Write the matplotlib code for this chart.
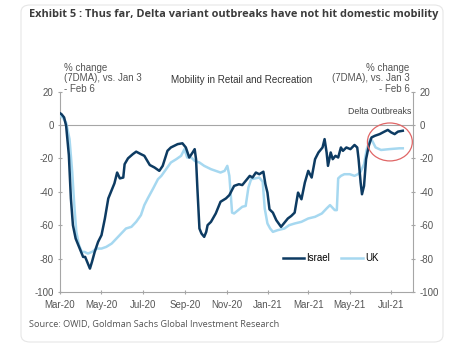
import pandas as pd
import matplotlib
matplotlib.use("Agg")
import matplotlib.pyplot as plt
from matplotlib.patches import Ellipse, FancyBboxPatch

israel_dates = ["2020-03-01", "2020-03-03", "2020-03-07", "2020-03-10", "2020-03-14", "2020-03-17",
                "2020-03-20", "2020-03-24", "2020-03-30", "2020-04-04", "2020-04-07", "2020-04-11",
                "2020-04-14", "2020-04-17", "2020-04-21", "2020-04-26", "2020-05-01", "2020-05-06",
                "2020-05-11", "2020-05-16", "2020-05-20", "2020-05-24", "2020-05-28", "2020-06-02",
                "2020-06-04", "2020-06-09", "2020-06-16", "2020-06-21", "2020-06-28", "2020-07-03",
                "2020-07-11", "2020-07-18", "2020-07-25", "2020-07-30", "2020-08-06", "2020-08-11",
                "2020-08-21", "2020-08-28", "2020-09-02", "2020-09-07", "2020-09-12", "2020-09-15",
                "2020-09-17", "2020-09-19", "2020-09-22", "2020-09-25", "2020-09-29", "2020-10-02",
                "2020-10-04", "2020-10-09", "2020-10-16", "2020-10-23", "2020-10-31", "2020-11-05",
                "2020-11-12", "2020-11-19", "2020-11-24", "2020-12-01", "2020-12-05", "2020-12-09",
                "2020-12-14", "2020-12-19", "2020-12-25", "2020-12-28", "2020-12-31", "2021-01-03",
                "2021-01-08", "2021-01-13", "2021-01-20", "2021-01-25", "2021-01-30", "2021-02-04",
                "2021-02-09", "2021-02-14", "2021-02-19", "2021-02-24", "2021-03-01", "2021-03-06",
                "2021-03-11", "2021-03-16", "2021-03-22", "2021-03-25", "2021-03-28", "2021-03-30",
                "2021-04-03", "2021-04-06", "2021-04-10", "2021-04-14", "2021-04-18", "2021-04-21",
                "2021-04-26", "2021-05-02", "2021-05-08", "2021-05-12", "2021-05-14", "2021-05-17",
                "2021-05-19", "2021-05-22", "2021-05-25", "2021-05-29", "2021-06-02", "2021-06-07",
                "2021-06-14", "2021-06-21", "2021-06-26", "2021-07-01", "2021-07-06", "2021-07-11",
                "2021-07-18"]
israel = [7, 6.5, 4.5, -0.5, -18, -44,
          -60, -68, -74, -79, -79, -83,
          -86, -82, -76, -70, -66, -56,
          -44, -39, -35, -28.5, -32, -31.5,
          -23.5, -20, -17.5, -16, -17.5, -18.5,
          -24, -25.5, -27.5, -24.5, -15.5, -13.5,
          -11.5, -11, -13.5, -19.5, -16.5, -14.5,
          -20.5, -38, -62, -65, -67, -64,
          -60, -58, -53, -46, -44, -42,
          -36.5, -35.5, -36, -32.5, -30.5, -31.5,
          -28.5, -29.5, -28, -35.5, -40.5, -50.5,
          -52.5, -57, -61, -58.5, -56, -54.5,
          -52.5, -40.5, -44.5, -34.5, -27.5, -31.5,
          -20.5, -16.5, -13.5, -8.5, -16.5, -24.5,
          -16.5, -20.5, -18.5, -19.5, -13.5, -15.5,
          -13.5, -14.5, -12, -13.5, -20.5, -34.5,
          -41.5, -36.5, -20.5, -12.5, -7.5, -6.5,
          -5.5, -4, -3, -4.5, -5.5, -4,
          -3.5]

uk_dates = ["2020-03-01", "2020-03-05", "2020-03-10", "2020-03-15", "2020-03-19", "2020-03-22",
            "2020-03-25", "2020-03-29", "2020-04-02", "2020-04-06", "2020-04-11", "2020-04-17",
            "2020-04-24", "2020-05-01", "2020-05-08", "2020-05-16", "2020-05-23", "2020-05-30",
            "2020-06-06", "2020-06-14", "2020-06-21", "2020-06-28", "2020-07-03", "2020-07-08",
            "2020-07-16", "2020-07-23", "2020-07-28", "2020-08-04", "2020-08-11", "2020-08-19",
            "2020-08-26", "2020-08-31", "2020-09-04", "2020-09-10", "2020-09-15", "2020-09-22",
            "2020-09-29", "2020-10-09", "2020-10-16", "2020-10-23", "2020-10-29", "2020-11-02",
            "2020-11-05", "2020-11-09", "2020-11-12", "2020-11-24", "2020-11-29", "2020-12-03",
            "2020-12-07", "2020-12-19", "2020-12-24", "2020-12-27", "2020-12-31", "2021-01-04",
            "2021-01-08", "2021-01-15", "2021-01-25", "2021-02-01", "2021-02-09", "2021-02-19",
            "2021-03-01", "2021-03-11", "2021-03-21", "2021-03-28", "2021-04-02", "2021-04-09",
            "2021-04-12", "2021-04-14", "2021-04-18", "2021-04-23", "2021-05-01", "2021-05-08",
            "2021-05-13", "2021-05-17", "2021-05-22", "2021-05-26", "2021-05-31", "2021-06-03",
            "2021-06-08", "2021-06-16", "2021-06-28", "2021-07-13", "2021-07-18"]
uk = [5.4, 4.4, 1.4, -8.5, -28.5, -48,
      -64, -72, -76, -76, -77, -76,
      -74, -74, -73, -71, -68, -65,
      -62, -61, -58, -54, -48, -44,
      -38, -32.5, -30.5, -26.5, -22.5, -20.5,
      -18.5, -14.5, -19.5, -19.5, -21.5, -22.5,
      -24.5, -26.5, -27.5, -28.5, -27.5, -24.5,
      -30.5, -52.5, -53, -49, -48.5, -37.5,
      -32.5, -31.5, -34, -50, -59, -62,
      -64, -63, -62, -60, -59, -58,
      -56, -55, -53, -50, -48, -51,
      -51, -32, -30.5, -29.5, -29.5, -30.5,
      -29.5, -28, -23.5, -14.5, -8.5, -9.5,
      -13.5, -15, -14.5, -14, -14]

x_ticks = ["2020-03-01", "2020-05-01", "2020-07-01", "2020-09-01", "2020-11-01",
           "2021-01-01", "2021-03-01", "2021-05-01", "2021-07-01"]
x_tick_labels = ["Mar-20", "May-20", "Jul-20", "Sep-20", "Nov-20",
                 "Jan-21", "Mar-21", "May-21", "Jul-21"]
y_ticks = [20, 0, -20, -40, -60, -80, -100]

plt.rcParams['font.family'] = ['Liberation Sans', 'DejaVu Sans']

fig = plt.figure(figsize=(4.52, 3.52), dpi=100)

# card frame behind everything
card = FancyBboxPatch((21 / 452, 1 - 342 / 352), 422 / 452, 337 / 352,
                      boxstyle="round,pad=0,rounding_size=0.02",
                      transform=fig.transFigure, facecolor="white",
                      edgecolor="#e6e6e6", linewidth=0.8, zorder=-10)
fig.patches.append(card)

fig.text(29 / 452, 1 - 14 / 352,
         "Exhibit 5 : Thus far, Delta variant outbreaks have not hit domestic mobility",
         fontsize=7.9, fontweight="bold", color="#3c3c3c", va="center", ha="left",
         family=["Open Sans", "DejaVu Sans"])
fig.text(29 / 452, 1 - 325 / 352, "Source: OWID, Goldman Sachs Global Investment Research",
         fontsize=6.6, color="#555555", va="center", ha="left",
         family=["Open Sans", "DejaVu Sans"])

ax = fig.add_axes([60 / 452, 1 - 292 / 352, 353 / 452, 200.5 / 352])
ax.patch.set_alpha(0)

israel_x = pd.to_datetime(israel_dates)
uk_x = pd.to_datetime(uk_dates)
uk_line, = ax.plot(uk_x, uk, color="#a6d8f0", linewidth=1.8, label="UK", zorder=3)
isr_line, = ax.plot(israel_x, israel, color="#0d3b62", linewidth=1.8, label="Israel", zorder=4)
ax.axhline(0, color="#a6a6a6", linewidth=0.8, zorder=1)

ax.set_xlim(pd.Timestamp("2020-03-01"), pd.Timestamp("2021-08-02"))
ax.set_ylim(-100, 20)
ax.set_xticks(pd.to_datetime(x_ticks))
ax.set_xticklabels(x_tick_labels)
ax.set_yticks(y_ticks)
ax.set_yticklabels([str(v) for v in y_ticks])

ax.tick_params(axis="both", labelsize=7, colors="#a6a6a6", labelcolor="#555555",
               length=3, width=0.8, direction="inout")
ax.tick_params(axis="y", right=True, labelright=True, pad=3)
ax.tick_params(axis="x", pad=4)
ax.spines["top"].set_visible(False)
for s in ["left", "right", "bottom"]:
    ax.spines[s].set_color("#a6a6a6")
    ax.spines[s].set_linewidth(0.8)

circle = Ellipse((pd.Timestamp("2021-06-29"), -10.2), width=66, height=22.7,
                 fill=False, edgecolor="#e06666", linewidth=0.9, zorder=5)
ax.add_patch(circle)
ax.text(0.995, 0.898, "Delta Outbreaks", transform=ax.transAxes, ha="right",
        va="center", fontsize=6.3, color="#444444")

ax.text(0.012, 0.99, "% change\n(7DMA), vs. Jan 3\n- Feb 6", transform=ax.transAxes,
        ha="left", va="bottom", fontsize=7, color="#555555", linespacing=1.05)
ax.text(0.99, 0.99, "% change\n(7DMA), vs. Jan 3\n- Feb 6", transform=ax.transAxes,
        ha="right", va="bottom", fontsize=7, color="#555555", linespacing=1.05,
        multialignment="right")
ax.text(0.515, 1.055, "Mobility in Retail and Recreation", transform=ax.transAxes,
        ha="center", va="center", fontsize=7.1, color="#333333")

ax.legend(handles=[isr_line, uk_line], loc="lower left",
          bbox_to_anchor=(0.62, 0.125), ncol=2, frameon=False, fontsize=7,
          handlelength=2.2, handletextpad=0.2, columnspacing=1.2,
          borderaxespad=0)

fig.savefig("out.png", dpi=100)
